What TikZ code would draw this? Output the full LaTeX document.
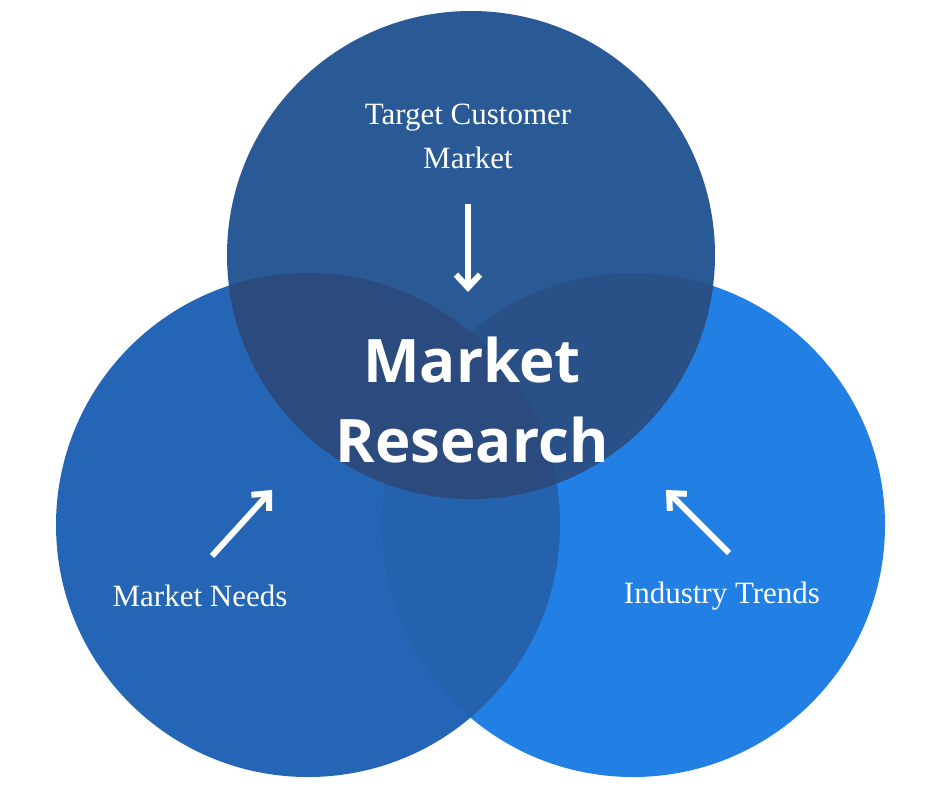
\documentclass[tikz,border=0pt]{standalone}
\usepackage{fontspec}
\setmainfont{Liberation Serif}
\newfontfamily\boldsans{Open Sans}
\usetikzlibrary{arrows.meta}
\definecolor{leftblue}{HTML}{2466B5}
\definecolor{rightblue}{HTML}{2280E5}
\definecolor{lrblue}{HTML}{2462AE}
\definecolor{topblue}{HTML}{2A5A95}
\definecolor{topleft}{HTML}{2B4B7E}
\definecolor{topright}{HTML}{2A5088}
\begin{document}
\begin{tikzpicture}[x=1pt, y=-1pt,
  lbl/.style={text=white, font=\fontsize{31}{44}\selectfont, align=center},
  pointer/.style={draw=white, line width=6pt, -{Straight Barb[length=13pt,width=24pt,line width=6pt]}}]
\useasboundingbox[fill=white] (0,0) rectangle (940,788);
% circles
\fill[leftblue] (308,525) circle (252);
\fill[rightblue] (633,525) circle (252);
\begin{scope}
  \clip (308,525) circle (252);
  \fill[lrblue] (633,525) circle (252);
\end{scope}
\fill[topblue] (471,255) circle (244);
\begin{scope}
  \clip (471,255) circle (244);
  \fill[topright] (633,525) circle (252);
  \fill[topleft] (308,525) circle (252);
\end{scope}
% labels
\node[lbl] (target) at (468,136) {Target Customer\\Market};
\node[lbl] (needs) at (200,596) {Market Needs};
\node[lbl] (trends) at (722,596) {Industry Trends};
\node[text=white, font=\boldsans\bfseries\fontsize{60}{80}\selectfont, align=center] (research) at (472,400) {Market\\Research};
% arrows
\coordinate (topstart) at (468,204);
\coordinate (topend) at (468,292);
\coordinate (leftstart) at (212,556);
\coordinate (leftend) at (272,490);
\coordinate (rightstart) at (729,553);
\coordinate (rightend) at (666,490);
\draw[pointer] (topstart) -- (topend);
\draw[pointer] (leftstart) -- (leftend);
\draw[pointer] (rightstart) -- (rightend);
\end{tikzpicture}
\end{document}
